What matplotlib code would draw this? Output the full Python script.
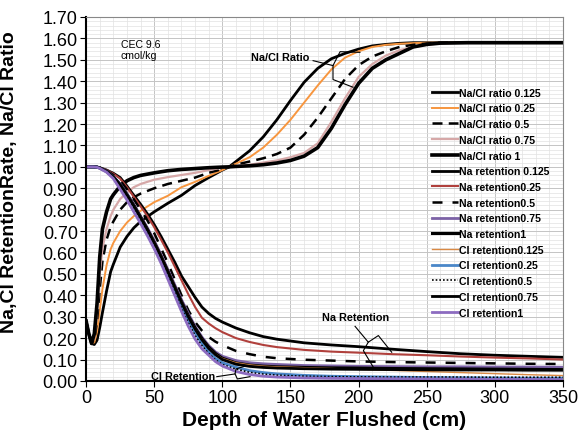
import matplotlib
matplotlib.use("Agg")
import matplotlib.pyplot as plt
from matplotlib.ticker import MultipleLocator, FormatStrFormatter

plt.rcParams['font.family'] = ['Liberation Sans', 'DejaVu Sans']

# Na/Cl ratio curves (depth in cm)
ratio_x = [0, 2, 4, 6, 8, 10, 12, 15, 18, 20, 25, 30, 35, 40, 50, 60, 70, 80, 90, 100,
           105, 110, 120, 130, 140, 150, 160, 170, 180, 190, 200, 210, 220, 230, 240,
           250, 260, 280, 300, 350]
ratio_0125 = [0.28, 0.22, 0.175, 0.17, 0.19, 0.25, 0.32, 0.42, 0.51, 0.545, 0.625, 0.675, 0.715, 0.745,
              0.79, 0.83, 0.867, 0.913, 0.95, 0.985, 1.0, 1.025, 1.075, 1.14, 1.22, 1.31, 1.395, 1.46,
              1.505, 1.53, 1.55, 1.565, 1.572, 1.577, 1.58, 1.58, 1.58, 1.58, 1.58, 1.58]
ratio_025 = [0.28, 0.22, 0.175, 0.18, 0.23, 0.33, 0.43, 0.54, 0.615, 0.645, 0.70, 0.74, 0.77, 0.795,
             0.835, 0.865, 0.905, 0.93, 0.958, 0.985, 1.0, 1.015, 1.045, 1.09, 1.15, 1.22, 1.30, 1.38,
             1.455, 1.51, 1.54, 1.56, 1.57, 1.575, 1.578, 1.58, 1.58, 1.58, 1.58, 1.58]
ratio_05 = [0.28, 0.22, 0.175, 0.19, 0.28, 0.43, 0.56, 0.66, 0.72, 0.745, 0.80, 0.835, 0.858, 0.875,
            0.90, 0.92, 0.935, 0.95, 0.972, 0.99, 1.0, 1.01, 1.025, 1.04, 1.06, 1.09, 1.15, 1.23,
            1.32, 1.41, 1.475, 1.515, 1.54, 1.56, 1.57, 1.576, 1.58, 1.58, 1.58, 1.58]
ratio_075 = [0.28, 0.22, 0.175, 0.20, 0.32, 0.50, 0.62, 0.71, 0.77, 0.80, 0.85, 0.88, 0.905, 0.92,
             0.94, 0.952, 0.962, 0.972, 0.985, 0.996, 1.0, 1.004, 1.01, 1.02, 1.03, 1.045, 1.065, 1.11,
             1.21, 1.32, 1.42, 1.48, 1.52, 1.545, 1.56, 1.57, 1.577, 1.58, 1.58, 1.58]
ratio_1 = [0.28, 0.22, 0.175, 0.22, 0.36, 0.58, 0.71, 0.79, 0.85, 0.87, 0.91, 0.935, 0.95, 0.96,
           0.972, 0.982, 0.988, 0.992, 0.996, 0.999, 1.0, 1.002, 1.005, 1.01, 1.018, 1.03, 1.05, 1.09,
           1.18, 1.29, 1.39, 1.46, 1.50, 1.53, 1.56, 1.572, 1.578, 1.58, 1.58, 1.58]

# Na and Cl retention curves
ret_x = [0, 5, 8, 10, 15, 20, 25, 30, 35, 40, 45, 50, 55, 60, 65, 70, 75, 80, 85, 90, 95, 100,
         110, 120, 130, 140, 160, 180, 200, 225, 250, 275, 300, 325, 350]
na_0125 = [1.0, 1.0, 0.999, 0.996, 0.985, 0.97, 0.95, 0.91, 0.867, 0.825, 0.78, 0.73, 0.675, 0.615,
           0.555, 0.49, 0.44, 0.39, 0.345, 0.315, 0.292, 0.275, 0.247, 0.225, 0.207, 0.195, 0.178,
           0.168, 0.16, 0.148, 0.137, 0.127, 0.12, 0.115, 0.11]
na_025 = [1.0, 1.0, 0.999, 0.996, 0.985, 0.968, 0.945, 0.905, 0.86, 0.815, 0.77, 0.718, 0.66, 0.6,
          0.535, 0.47, 0.405, 0.345, 0.295, 0.268, 0.246, 0.228, 0.2, 0.182, 0.168, 0.158, 0.145,
          0.137, 0.132, 0.125, 0.12, 0.114, 0.109, 0.105, 0.10]
na_05 = [1.0, 1.0, 0.999, 0.995, 0.982, 0.962, 0.935, 0.895, 0.848, 0.80, 0.75, 0.69, 0.62, 0.55,
         0.475, 0.40, 0.33, 0.275, 0.235, 0.205, 0.183, 0.167, 0.14, 0.125, 0.113, 0.106, 0.099,
         0.095, 0.091, 0.088, 0.086, 0.084, 0.082, 0.08, 0.079]
na_075 = [1.0, 1.0, 0.999, 0.995, 0.98, 0.955, 0.92, 0.875, 0.825, 0.77, 0.715, 0.655, 0.59, 0.52,
          0.45, 0.38, 0.315, 0.255, 0.205, 0.165, 0.135, 0.115, 0.095, 0.085, 0.08, 0.077, 0.072,
          0.07, 0.068, 0.067, 0.066, 0.066, 0.065, 0.065, 0.064]
na_1 = [1.0, 1.0, 0.999, 0.995, 0.979, 0.953, 0.917, 0.87, 0.82, 0.765, 0.708, 0.647, 0.582, 0.512,
        0.44, 0.37, 0.305, 0.248, 0.198, 0.158, 0.128, 0.106, 0.084, 0.074, 0.069, 0.066, 0.063,
        0.061, 0.06, 0.058, 0.057, 0.056, 0.055, 0.054, 0.053]
cl_0125 = [1.0, 1.0, 0.999, 0.995, 0.979, 0.954, 0.918, 0.872, 0.822, 0.767, 0.71, 0.65, 0.585, 0.515,
           0.443, 0.372, 0.305, 0.245, 0.195, 0.155, 0.125, 0.105, 0.085, 0.075, 0.069, 0.066, 0.062,
           0.058, 0.054, 0.049, 0.044, 0.039, 0.034, 0.029, 0.025]
cl_025 = [1.0, 1.0, 0.999, 0.994, 0.978, 0.952, 0.915, 0.868, 0.815, 0.76, 0.70, 0.638, 0.57, 0.5,
          0.425, 0.35, 0.285, 0.225, 0.175, 0.135, 0.105, 0.085, 0.064, 0.048, 0.039, 0.033, 0.026,
          0.022, 0.02, 0.018, 0.016, 0.015, 0.014, 0.013, 0.013]
cl_05 = [1.0, 1.0, 0.999, 0.994, 0.977, 0.949, 0.908, 0.86, 0.806, 0.75, 0.69, 0.63, 0.562, 0.49,
         0.415, 0.34, 0.272, 0.212, 0.165, 0.128, 0.098, 0.077, 0.055, 0.04, 0.032, 0.027, 0.022,
         0.02, 0.019, 0.018, 0.018, 0.018, 0.017, 0.017, 0.017]
cl_075 = [1.0, 1.0, 0.999, 0.995, 0.979, 0.953, 0.916, 0.869, 0.818, 0.763, 0.706, 0.645, 0.58, 0.51,
          0.438, 0.367, 0.3, 0.242, 0.192, 0.152, 0.122, 0.1, 0.078, 0.068, 0.063, 0.06, 0.057,
          0.055, 0.054, 0.053, 0.052, 0.051, 0.051, 0.05, 0.05]
cl_1 = [1.0, 1.0, 0.998, 0.993, 0.975, 0.945, 0.895, 0.845, 0.79, 0.735, 0.678, 0.617, 0.55, 0.475,
        0.40, 0.325, 0.255, 0.195, 0.15, 0.12, 0.09, 0.07, 0.044, 0.03, 0.022, 0.018, 0.014,
        0.012, 0.011, 0.01, 0.009, 0.008, 0.007, 0.007, 0.006]

fig = plt.figure(figsize=(5.78, 4.39), dpi=100)
ax = fig.add_axes([0.149, 0.13, 0.825, 0.829])

# ratio lines
ax.plot(ratio_x, ratio_0125, color='black', lw=2.0, label='Na/Cl ratio 0.125')
ax.plot(ratio_x, ratio_025, color='#F7963F', lw=1.4, label='Na/Cl ratio 0.25')
ax.plot(ratio_x, ratio_05, color='black', lw=1.8, ls=(0, (4, 2.5)), label='Na/Cl ratio 0.5')
ax.plot(ratio_x, ratio_075, color='#D6A8A8', lw=1.6, label='Na/Cl ratio 0.75')
ax.plot(ratio_x, ratio_1, color='black', lw=2.6, label='Na/Cl ratio 1')

# retention lines
ax.plot(ret_x, na_0125, color='black', lw=2.0, label='Na retention 0.125')
ax.plot(ret_x, na_025, color='#B0403C', lw=1.5, label='Na retention0.25')
ax.plot(ret_x, na_05, color='black', lw=1.8, ls=(0, (4, 4)), label='Na retention0.5')
ax.plot(ret_x, na_075, color='#7C62A6', lw=2.0, label='Na retention0.75')
ax.plot(ret_x, na_1, color='black', lw=2.2, label='Na retention1')
ax.plot(ret_x, cl_0125, color='#D98943', lw=1.0, label='Cl retention0.125')
ax.plot(ret_x, cl_025, color='#4A86C8', lw=2.0, label='Cl retention0.25')
ax.plot(ret_x, cl_05, color='black', lw=1.2, ls=(0, (1, 1.2)), label='Cl retention0.5')
ax.plot(ret_x, cl_075, color='black', lw=2.0, label='Cl retention0.75')
ax.plot(ret_x, cl_1, color='#8C6BC0', lw=2.0, label='Cl retention1')

ax.set_xlim(0, 350)
ax.set_ylim(0, 1.7)
ax.xaxis.set_major_locator(MultipleLocator(50))
ax.xaxis.set_minor_locator(MultipleLocator(10))
ax.yaxis.set_major_locator(MultipleLocator(0.1))
ax.yaxis.set_minor_locator(MultipleLocator(0.02))
ax.yaxis.set_major_formatter(FormatStrFormatter('%.2f'))
ax.grid(which='major', color='#c4c4c4', lw=0.7)
ax.grid(which='minor', color='#e2e2e2', lw=0.5)
ax.set_axisbelow(True)
ax.tick_params(which='major', labelsize=13, length=4, width=0.8, pad=2)
ax.tick_params(which='minor', length=0)
for side in ['left', 'bottom']:
    ax.spines[side].set_linewidth(1.5)
for side in ['top', 'right']:
    ax.spines[side].set_color('#888888')
    ax.spines[side].set_linewidth(0.8)

ax.set_xlabel('Depth of Water Flushed (cm)', fontsize=15, fontweight='bold', labelpad=3)
ax.set_ylabel('Na,Cl RetentionRate, Na/Cl Ratio', fontsize=14, fontweight='bold')
ax.yaxis.set_label_coords(-0.142, 0.55)

leg = ax.legend(loc='upper left', bbox_to_anchor=(0.715, 0.82), frameon=False,
                prop={'weight': 'bold', 'size': 7.6},
                handlelength=2.4, handletextpad=0.15, labelspacing=0.54, borderpad=0)

ax.text(25.5, 1.55, 'CEC 9.6\ncmol/kg', fontsize=7.6, va='center', ha='left', linespacing=1.15)

# callouts
ax.text(164, 1.515, 'Na/Cl Ratio', fontsize=7.8, fontweight='bold', ha='right', va='center')
ax.plot([166.6, 181.2, 186.4, 201], [1.496, 1.473, 1.538, 1.535], color='black', lw=0.8)
ax.plot([181.2, 181.2, 195.9], [1.473, 1.408, 1.372], color='black', lw=0.8)

ax.text(197.4, 0.298, 'Na Retention', fontsize=7.8, fontweight='bold', ha='center', va='center')
ax.plot([197.4, 207.1, 214.5, 224.3], [0.255, 0.181, 0.212, 0.134], color='black', lw=0.8)
ax.plot([207.1, 203.5, 210.8], [0.181, 0.1415, 0.064], color='black', lw=0.8)

ax.text(94.5, 0.024, 'Cl Retention', fontsize=7.8, fontweight='bold', ha='right', va='center')
ax.plot([95.9, 109.3, 110, 117.9], [0.02, 0.0327, 0.056, 0.0715], color='black', lw=0.8)
ax.plot([109.3, 111, 120.3], [0.0327, 0.0093, 0.02], color='black', lw=0.8)

fig.savefig('out.png', dpi=100)
